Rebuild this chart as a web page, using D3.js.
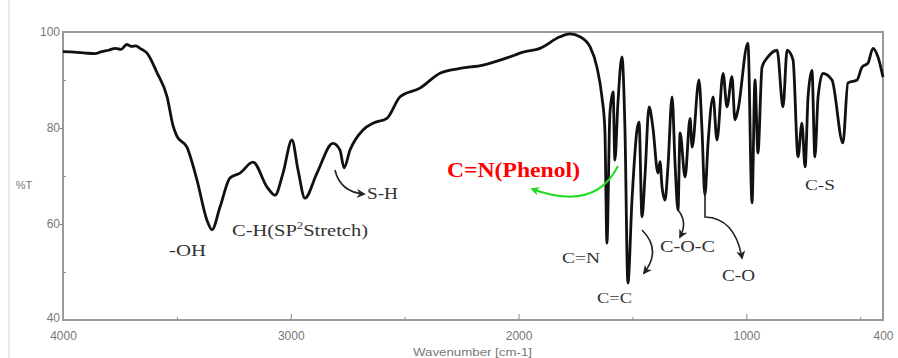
<!DOCTYPE html>
<html>
<head>
<meta charset="utf-8">
<script src="https://cdn.jsdelivr.net/npm/d3@7/dist/d3.min.js"></script>
<style>
  html, body { margin: 0; padding: 0; background: #fff; }
  svg { display: block; }
  .axis text { font-family: "Liberation Sans", Arial, sans-serif; font-size: 12px; fill: #777; }
  .axis path, .axis line { stroke: #8a8a8a; }
  .lbl { font-family: "Liberation Serif", "Times New Roman", serif; fill: #333; }
</style>
</head>
<body>
<svg id="chart" width="898" height="358"></svg>
<script>
// FT-IR spectrum: wavenumber (cm-1) and transmittance (%T)
const wavenumbers = [
  4000, 3950, 3900, 3860, 3830, 3800, 3770, 3745, 3720, 3700, 3680, 3662, 3631, 3587, 3543, 3517, 3500,
  3456, 3412, 3368, 3346, 3311, 3267, 3223, 3166, 3104, 3069, 3034, 2995, 2968, 2938, 2885, 2815,
  2784, 2766, 2740, 2683, 2639, 2578, 2520, 2433, 2345, 2257, 2156, 2051, 1980, 1906, 1818, 1774,
  1730, 1686, 1656, 1634, 1621, 1612, 1599, 1585, 1577, 1564, 1546, 1533, 1520, 1502, 1480, 1471,
  1458, 1445, 1427, 1410, 1388, 1379, 1370, 1357, 1344, 1326, 1313, 1300, 1291, 1269, 1247, 1238,
  1208, 1195, 1182, 1168, 1146, 1129, 1102, 1085, 1063, 1050, 1037, 993, 975, 962, 949, 931,
  905, 865, 839, 821, 795, 773, 756, 742, 729, 712, 699, 685, 664, 624, 576, 554,
  514, 492, 466, 444, 422, 400
];
const transmittance = [
  95.9, 95.8, 95.6, 95.5, 95.9, 96.2, 96.6, 96.4, 97.4, 97.0, 97.1, 96.6, 95.6, 91.5, 86.5, 80.5, 78.3,
  76.0, 69.2, 60.8, 58.8, 63.5, 69.6, 70.6, 72.9, 67.7, 66.0, 70.6, 77.5, 71.2, 65.4, 70.6, 76.8,
  75.4, 71.7, 75.4, 79.6, 81.0, 82.0, 86.5, 88.3, 91.4, 92.4, 93.1, 94.6, 95.8, 96.6, 99.0, 99.6,
  99.0, 96.9, 92.7, 86.5, 79.6, 56.0, 83.0, 87.5, 73.3, 85.0, 94.8, 80.0, 47.7, 65.0, 79.6, 81.2,
  61.5, 70.0, 84.4, 80.0, 70.6, 73.0, 67.7, 65.0, 72.0, 86.5, 72.7, 62.9, 79.0, 69.8, 82.0, 76.0,
  90.0, 80.0, 66.0, 76.9, 86.5, 77.5, 91.4, 84.4, 90.7, 81.7, 83.7, 97.7, 64.4, 90.0, 74.8, 92.7,
  94.8, 96.2, 84.4, 96.2, 94.2, 74.0, 81.0, 71.9, 86.5, 92.0, 74.0, 86.5, 91.4, 90.0, 76.9, 89.4,
  90.0, 92.7, 93.5, 96.6, 94.8, 90.6
];

// Axis ticks
const xLabelTicks = [4000, 3000, 2000, 1000, 400];
const xMajorTicks = [3000, 2000, 1000];
const xMinorTicks = [3500, 2500, 1500, 500];
const yLabelTicks = [100, 80, 60, 40];
const yMajorTicks = [80, 60];
const yMinorTicks = [90, 70, 50];

// Band assignments
const bandLabels = ["-OH", "C-H(SP", "S-H", "C=N", "C=C", "C-O-C", "C-O", "C-S"];

const svg = d3.select("#chart");
const mLeft = 63, mRight = 883, mTop = 32, mBottom = 320;

const x = d3.scaleLinear().domain([4000, 400]).range([mLeft, mRight]);
const y = d3.scaleLinear().domain([40, 100]).range([mBottom, mTop]);

// faint edge line on the left
svg.append("line").attr("x1", 9).attr("x2", 9).attr("y1", 0).attr("y2", 358)
  .attr("stroke", "#e4e4e4").attr("stroke-width", 1.5);

// frame
svg.append("rect").attr("x", mLeft).attr("y", mTop)
  .attr("width", mRight - mLeft).attr("height", mBottom - mTop)
  .attr("fill", "none").attr("stroke", "#9a9a9a").attr("stroke-width", 2);

// x axis labels
const gx = svg.append("g").attr("class", "axis").attr("transform", `translate(0,${mBottom})`)
  .call(d3.axisBottom(x).tickValues(xLabelTicks).tickSize(0).tickPadding(11).tickFormat(d3.format("d")));
gx.select(".domain").remove();
// x tick marks pointing into the plot
svg.append("g").attr("class", "axis").attr("transform", `translate(0,${mBottom})`)
  .call(d3.axisTop(x).tickValues(xMajorTicks).tickSize(6).tickFormat(""))
  .select(".domain").remove();
svg.append("g").attr("class", "axis").attr("transform", `translate(0,${mBottom})`)
  .call(d3.axisTop(x).tickValues(xMinorTicks).tickSize(3).tickFormat(""))
  .select(".domain").remove();

// y axis labels and ticks
const gy = svg.append("g").attr("class", "axis").attr("transform", `translate(${mLeft},0)`)
  .call(d3.axisLeft(y).tickValues(yLabelTicks).tickSize(0).tickPadding(3));
gy.select(".domain").remove();
gy.selectAll(".tick").filter(d => d === 40).select("text").attr("dy", "0.1em");
svg.append("g").attr("class", "axis").attr("transform", `translate(${mLeft},0)`)
  .call(d3.axisLeft(y).tickValues(yMajorTicks).tickSize(4).tickFormat(""))
  .select(".domain").remove();
svg.append("g").attr("class", "axis").attr("transform", `translate(${mLeft},0)`)
  .call(d3.axisRight(y).tickValues(yMinorTicks).tickSize(3).tickFormat(""))
  .select(".domain").remove();

// axis titles
svg.append("text").attr("x", 413).attr("y", 356)
  .attr("font-family", "Liberation Sans, Arial, sans-serif").attr("font-size", 11).attr("fill", "#777")
  .attr("textLength", 119).attr("lengthAdjust", "spacingAndGlyphs")
  .text("Wavenumber [cm-1]");
svg.append("text").attr("x", 24).attr("y", 189).attr("text-anchor", "middle")
  .attr("font-family", "Liberation Sans, Arial, sans-serif").attr("font-size", 11).attr("fill", "#777")
  .text("%T");

// spectrum
const pts = wavenumbers.map((w, i) => [w, transmittance[i]]);
const line = d3.line().x(d => x(d[0])).y(d => y(d[1])).curve(d3.curveMonotoneX);
svg.append("path").datum(pts).attr("d", line)
  .attr("fill", "none").attr("stroke", "#111").attr("stroke-width", 2.8)
  .attr("stroke-linejoin", "round");

// markers
const defs = svg.append("defs");
function marker(id, color) {
  defs.append("marker").attr("id", id).attr("viewBox", "0 0 10 10")
    .attr("refX", 8).attr("refY", 5).attr("markerWidth", 9).attr("markerHeight", 9)
    .attr("orient", "auto-start-reverse").attr("markerUnits", "userSpaceOnUse")
    .append("path").attr("d", "M0,0 L10,5 L0,10 L3,5 Z").attr("fill", color);
}
marker("ahBlack", "#222");
marker("ahGreen", "#22dd22");

function arrow(d, color, id, w) {
  svg.append("path").attr("d", d).attr("fill", "none").attr("stroke", color)
    .attr("stroke-width", w).attr("marker-end", `url(#${id})`);
}

// band labels (horizontally widened serif text)
function label(txt, xx, yy, size, width) {
  return svg.append("text").attr("class", "lbl").attr("x", xx).attr("y", yy)
    .attr("font-size", size).attr("textLength", width).attr("lengthAdjust", "spacingAndGlyphs")
    .text(txt);
}
label(bandLabels[0], 169, 256, 16, 37);
const ch = svg.append("text").attr("class", "lbl").attr("font-size", 16)
  .attr("transform", "translate(232,236) scale(1.28,1)");
ch.append("tspan").text(bandLabels[1]);
ch.append("tspan").attr("font-size", 10).attr("dy", -7).text("2");
ch.append("tspan").attr("dy", 7).text("Stretch)");
label(bandLabels[2], 367, 199, 16, 31);
label(bandLabels[3], 562, 263, 15, 38);
label(bandLabels[4], 597, 303, 15, 35);
label(bandLabels[5], 660, 252, 16, 55);
label(bandLabels[6], 722, 281, 16, 33);
label(bandLabels[7], 805, 190, 15, 30);

svg.append("text").attr("x", 447).attr("y", 177)
  .attr("font-family", "Liberation Serif, Times New Roman, serif")
  .attr("font-weight", "bold").attr("font-size", 22).attr("fill", "#ff0000")
  .attr("textLength", 133).attr("lengthAdjust", "spacingAndGlyphs")
  .text("C=N(Phenol)");

// arrows
arrow("M335,170 Q340,192 364,194", "#222", "ahBlack", 1.6);
arrow("M618,166 Q595,212 532,189", "#22dd22", "ahGreen", 2);
arrow("M642,230 Q662,250 644,273", "#222", "ahBlack", 1.6);
arrow("M678,210 Q688,222 680,237", "#222", "ahBlack", 1.6);
arrow("M705,190 L705,217 Q735,218 742,258", "#222", "ahBlack", 1.6);
</script>
</body>
</html>
